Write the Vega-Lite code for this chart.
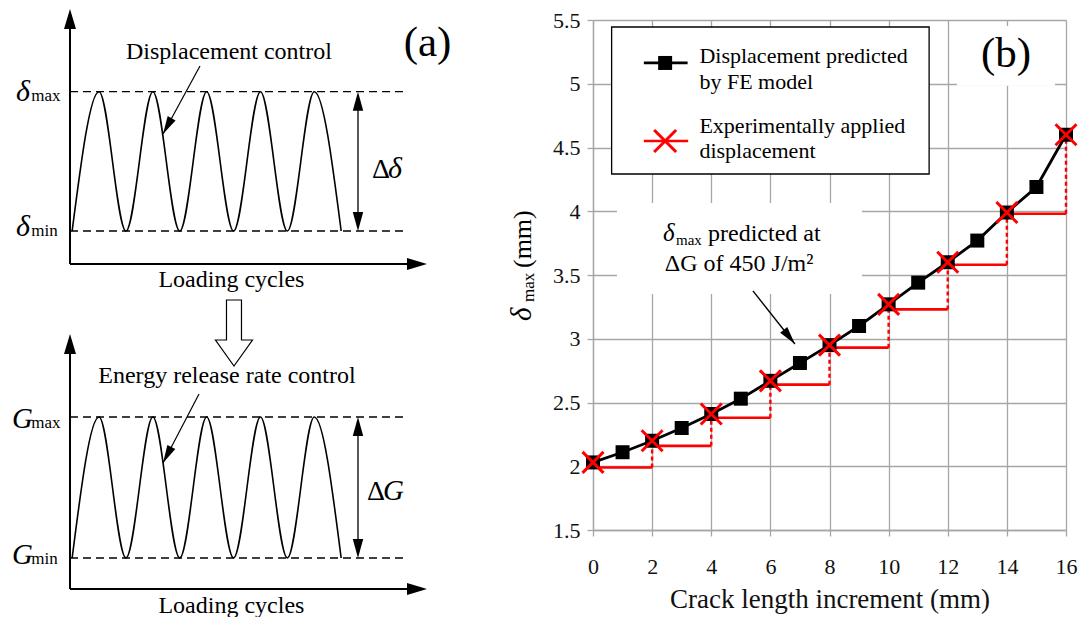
{
  "$schema": "https://vega.github.io/schema/vega-lite/v6.json",
  "background": "white",
  "padding": {"left": 0, "top": 8, "right": 0, "bottom": 0},
  "bounds": "flush",
  "spacing": 123,
  "config": {"view": {"stroke": null}},
  "datasets": {
    "wave": [
      {"t": 0.04, "level": 0}, {"t": 0.54, "level": 1}, {"t": 1.04, "level": 0}, {"t": 1.54, "level": 1},
      {"t": 2.04, "level": 0}, {"t": 2.54, "level": 1}, {"t": 3.04, "level": 0}, {"t": 3.54, "level": 1},
      {"t": 4.04, "level": 0}, {"t": 4.54, "level": 1}, {"t": 5.04, "level": 0}
    ],
    "series": [
      {"x": 0, "y": 2.03}, {"x": 1, "y": 2.11}, {"x": 2, "y": 2.2}, {"x": 3, "y": 2.3}, {"x": 4, "y": 2.41},
      {"x": 5, "y": 2.53}, {"x": 6, "y": 2.67}, {"x": 7, "y": 2.81}, {"x": 8, "y": 2.95}, {"x": 9, "y": 3.1},
      {"x": 10, "y": 3.27}, {"x": 11, "y": 3.44}, {"x": 12, "y": 3.6}, {"x": 13, "y": 3.77}, {"x": 14, "y": 3.99},
      {"x": 15, "y": 4.19}, {"x": 16, "y": 4.6}
    ],
    "exp": [
      {"x": 0, "y": 2.03}, {"x": 2, "y": 2.2}, {"x": 4, "y": 2.41}, {"x": 6, "y": 2.67}, {"x": 8, "y": 2.95},
      {"x": 10, "y": 3.27}, {"x": 12, "y": 3.6}, {"x": 14, "y": 3.99}, {"x": 16, "y": 4.6}
    ],
    "steps": [
      {"from": 0, "to": 2, "level": 1.99, "next": 2.2},
      {"from": 2, "to": 4, "level": 2.16, "next": 2.41},
      {"from": 4, "to": 6, "level": 2.38, "next": 2.67},
      {"from": 6, "to": 8, "level": 2.64, "next": 2.95},
      {"from": 8, "to": 10, "level": 2.93, "next": 3.27},
      {"from": 10, "to": 12, "level": 3.23, "next": 3.6},
      {"from": 12, "to": 14, "level": 3.58, "next": 3.99},
      {"from": 14, "to": 16, "level": 3.98, "next": 4.6}
    ]
  },
  "hconcat": [
    {
      "width": 470,
      "height": 598,
      "data": {"values": [{}]},
      "resolve": {"scale": {"y": "independent"}},
      "layer": [
        {
          "layer": [
            {"data": {"values": [{"lvl": 0}, {"lvl": 1}]}, "mark": {"type": "rule", "color": "black", "strokeWidth": 1.3, "strokeDash": [8, 5]},
             "encoding": {"x": {"datum": 0, "type": "quantitative", "scale": {"domain": [-1.3011, 7.4349], "nice": false, "zero": false}, "axis": null}, "x2": {"datum": 6.23},
                          "y": {"field": "lvl", "type": "quantitative", "scale": {"domain": [-2.778, 1.5147], "nice": false, "zero": false}, "axis": null}}},
            {"data": {"name": "wave"}, "mark": {"type": "line", "interpolate": "monotone", "color": "black", "strokeWidth": 1.6},
             "encoding": {"x": {"field": "t", "type": "quantitative", "scale": {"domain": [-1.3011, 7.4349], "nice": false, "zero": false}, "axis": null},
                          "y": {"field": "level", "type": "quantitative", "scale": {"domain": [-2.778, 1.5147], "nice": false, "zero": false}, "axis": null}}},
            {"mark": {"type": "rule", "color": "black", "strokeWidth": 2},
             "encoding": {"x": {"datum": 0, "type": "quantitative", "scale": {"domain": [-1.3011, 7.4349], "nice": false, "zero": false}, "axis": null},
                          "y": {"datum": -0.237, "type": "quantitative", "scale": {"domain": [-2.778, 1.5147], "nice": false, "zero": false}, "axis": null}, "y2": {"datum": 1.522}}},
            {"mark": {"type": "rule", "color": "black", "strokeWidth": 2},
             "encoding": {"x": {"datum": 0, "type": "quantitative", "scale": {"domain": [-1.3011, 7.4349], "nice": false, "zero": false}, "axis": null}, "x2": {"datum": 6.45},
                          "y": {"datum": -0.237, "type": "quantitative", "scale": {"domain": [-2.778, 1.5147], "nice": false, "zero": false}, "axis": null}}},
            {"mark": {"type": "point", "shape": "M0,0L0.6,2L-0.6,2Z", "size": 400, "filled": true, "color": "black", "opacity": 1, "strokeWidth": 0},
             "encoding": {"x": {"datum": 0, "type": "quantitative", "scale": {"domain": [-1.3011, 7.4349], "nice": false, "zero": false}, "axis": null},
                          "y": {"datum": 1.594, "type": "quantitative", "scale": {"domain": [-2.778, 1.5147], "nice": false, "zero": false}, "axis": null}}},
            {"mark": {"type": "point", "shape": "M0,0L0.6,2L-0.6,2Z", "size": 400, "angle": 90, "filled": true, "color": "black", "opacity": 1, "strokeWidth": 0},
             "encoding": {"x": {"datum": 6.636, "type": "quantitative", "scale": {"domain": [-1.3011, 7.4349], "nice": false, "zero": false}, "axis": null},
                          "y": {"datum": -0.237, "type": "quantitative", "scale": {"domain": [-2.778, 1.5147], "nice": false, "zero": false}, "axis": null}}},
            {"mark": {"type": "rule", "color": "black", "strokeWidth": 1.3},
             "encoding": {"x": {"datum": 5.353, "type": "quantitative", "scale": {"domain": [-1.3011, 7.4349], "nice": false, "zero": false}, "axis": null},
                          "y": {"datum": 0.072, "type": "quantitative", "scale": {"domain": [-2.778, 1.5147], "nice": false, "zero": false}, "axis": null}, "y2": {"datum": 0.928}}},
            {"mark": {"type": "point", "shape": "M0,0L0.55,2L-0.55,2Z", "size": 361, "filled": true, "color": "black", "opacity": 1, "strokeWidth": 0},
             "encoding": {"x": {"datum": 5.353, "type": "quantitative", "scale": {"domain": [-1.3011, 7.4349], "nice": false, "zero": false}, "axis": null},
                          "y": {"datum": 1, "type": "quantitative", "scale": {"domain": [-2.778, 1.5147], "nice": false, "zero": false}, "axis": null}}},
            {"mark": {"type": "point", "shape": "M0,0L0.55,2L-0.55,2Z", "size": 361, "angle": 180, "filled": true, "color": "black", "opacity": 1, "strokeWidth": 0},
             "encoding": {"x": {"datum": 5.353, "type": "quantitative", "scale": {"domain": [-1.3011, 7.4349], "nice": false, "zero": false}, "axis": null},
                          "y": {"datum": 0, "type": "quantitative", "scale": {"domain": [-2.778, 1.5147], "nice": false, "zero": false}, "axis": null}}},
            {"mark": {"type": "rule", "color": "black", "strokeWidth": 1.2},
             "encoding": {"x": {"datum": 2.416, "type": "quantitative", "scale": {"domain": [-1.3011, 7.4349], "nice": false, "zero": false}, "axis": null}, "x2": {"datum": 1.729},
                          "y": {"datum": 1.184, "type": "quantitative", "scale": {"domain": [-2.778, 1.5147], "nice": false, "zero": false}, "axis": null}, "y2": {"datum": 0.696}}},
            {"mark": {"type": "point", "shape": "M0,0L0.5,2L-0.5,2Z", "size": 324, "angle": 208.6, "filled": true, "color": "black", "opacity": 1, "strokeWidth": 0},
             "encoding": {"x": {"datum": 1.729, "type": "quantitative", "scale": {"domain": [-1.3011, 7.4349], "nice": false, "zero": false}, "axis": null},
                          "y": {"datum": 0.696, "type": "quantitative", "scale": {"domain": [-2.778, 1.5147], "nice": false, "zero": false}, "axis": null}}},
            {"mark": {"type": "text", "text": "Displacement control", "font": "Liberation Serif", "fontSize": 24, "align": "center", "baseline": "alphabetic", "color": "black"},
             "encoding": {"x": {"datum": 2.955, "type": "quantitative", "scale": {"domain": [-1.3011, 7.4349], "nice": false, "zero": false}, "axis": null},
                          "y": {"datum": 1.235, "type": "quantitative", "scale": {"domain": [-2.778, 1.5147], "nice": false, "zero": false}, "axis": null}}},
            {"mark": {"type": "text", "text": "δ", "font": "Liberation Serif", "fontStyle": "italic", "fontSize": 30, "align": "left", "baseline": "alphabetic", "color": "black"},
             "encoding": {"x": {"datum": -1.004, "type": "quantitative", "scale": {"domain": [-1.3011, 7.4349], "nice": false, "zero": false}, "axis": null},
                          "y": {"datum": 0.933, "type": "quantitative", "scale": {"domain": [-2.778, 1.5147], "nice": false, "zero": false}, "axis": null}}},
            {"mark": {"type": "text", "text": "max", "font": "Liberation Serif", "fontSize": 17, "align": "left", "baseline": "alphabetic", "color": "black"},
             "encoding": {"x": {"datum": -0.72, "type": "quantitative", "scale": {"domain": [-1.3011, 7.4349], "nice": false, "zero": false}, "axis": null},
                          "y": {"datum": 0.933, "type": "quantitative", "scale": {"domain": [-2.778, 1.5147], "nice": false, "zero": false}, "axis": null}}},
            {"mark": {"type": "text", "text": "δ", "font": "Liberation Serif", "fontStyle": "italic", "fontSize": 30, "align": "left", "baseline": "alphabetic", "color": "black"},
             "encoding": {"x": {"datum": -1.004, "type": "quantitative", "scale": {"domain": [-1.3011, 7.4349], "nice": false, "zero": false}, "axis": null},
                          "y": {"datum": -0.036, "type": "quantitative", "scale": {"domain": [-2.778, 1.5147], "nice": false, "zero": false}, "axis": null}}},
            {"mark": {"type": "text", "text": "min", "font": "Liberation Serif", "fontSize": 17, "align": "left", "baseline": "alphabetic", "color": "black"},
             "encoding": {"x": {"datum": -0.72, "type": "quantitative", "scale": {"domain": [-1.3011, 7.4349], "nice": false, "zero": false}, "axis": null},
                          "y": {"datum": -0.036, "type": "quantitative", "scale": {"domain": [-2.778, 1.5147], "nice": false, "zero": false}, "axis": null}}},
            {"mark": {"type": "text", "text": "Δ", "font": "Liberation Serif", "fontSize": 28, "align": "left", "baseline": "alphabetic", "color": "black"},
             "encoding": {"x": {"datum": 5.613, "type": "quantitative", "scale": {"domain": [-1.3011, 7.4349], "nice": false, "zero": false}, "axis": null},
                          "y": {"datum": 0.38, "type": "quantitative", "scale": {"domain": [-2.778, 1.5147], "nice": false, "zero": false}, "axis": null}}},
            {"mark": {"type": "text", "text": "δ", "font": "Liberation Serif", "fontStyle": "italic", "fontSize": 30, "align": "left", "baseline": "alphabetic", "color": "black"},
             "encoding": {"x": {"datum": 5.911, "type": "quantitative", "scale": {"domain": [-1.3011, 7.4349], "nice": false, "zero": false}, "axis": null},
                          "y": {"datum": 0.38, "type": "quantitative", "scale": {"domain": [-2.778, 1.5147], "nice": false, "zero": false}, "axis": null}}},
            {"mark": {"type": "text", "text": "(a)", "font": "Liberation Serif", "fontSize": 43, "align": "center", "baseline": "alphabetic", "color": "black"},
             "encoding": {"x": {"datum": 6.645, "type": "quantitative", "scale": {"domain": [-1.3011, 7.4349], "nice": false, "zero": false}, "axis": null},
                          "y": {"datum": 1.253, "type": "quantitative", "scale": {"domain": [-2.778, 1.5147], "nice": false, "zero": false}, "axis": null}}},
            {"mark": {"type": "text", "text": "Loading cycles", "font": "Liberation Serif", "fontSize": 24, "align": "center", "baseline": "alphabetic", "color": "black"},
             "encoding": {"x": {"datum": 3.0, "type": "quantitative", "scale": {"domain": [-1.3011, 7.4349], "nice": false, "zero": false}, "axis": null},
                          "y": {"datum": -0.402, "type": "quantitative", "scale": {"domain": [-2.778, 1.5147], "nice": false, "zero": false}, "axis": null}}}
          ]
        },
        {
          "layer": [
            {"data": {"values": [{"lvl": 0}, {"lvl": 1}]}, "mark": {"type": "rule", "color": "black", "strokeWidth": 1.3, "strokeDash": [8, 5]},
             "encoding": {"x": {"datum": 0, "type": "quantitative", "scale": {"domain": [-1.3011, 7.4349], "nice": false, "zero": false}, "axis": null}, "x2": {"datum": 6.23},
                          "y": {"field": "lvl", "type": "quantitative", "scale": {"domain": [-0.4255, 3.816], "nice": false, "zero": false}, "axis": null}}},
            {"data": {"name": "wave"}, "mark": {"type": "line", "interpolate": "monotone", "color": "black", "strokeWidth": 1.6},
             "encoding": {"x": {"field": "t", "type": "quantitative", "scale": {"domain": [-1.3011, 7.4349], "nice": false, "zero": false}, "axis": null},
                          "y": {"field": "level", "type": "quantitative", "scale": {"domain": [-0.4255, 3.816], "nice": false, "zero": false}, "axis": null}}},
            {"mark": {"type": "rule", "color": "black", "strokeWidth": 2},
             "encoding": {"x": {"datum": 0, "type": "quantitative", "scale": {"domain": [-1.3011, 7.4349], "nice": false, "zero": false}, "axis": null},
                          "y": {"datum": -0.22, "type": "quantitative", "scale": {"domain": [-0.4255, 3.816], "nice": false, "zero": false}, "axis": null}, "y2": {"datum": 1.518}}},
            {"mark": {"type": "rule", "color": "black", "strokeWidth": 2},
             "encoding": {"x": {"datum": 0, "type": "quantitative", "scale": {"domain": [-1.3011, 7.4349], "nice": false, "zero": false}, "axis": null}, "x2": {"datum": 6.45},
                          "y": {"datum": -0.22, "type": "quantitative", "scale": {"domain": [-0.4255, 3.816], "nice": false, "zero": false}, "axis": null}}},
            {"mark": {"type": "point", "shape": "M0,0L0.6,2L-0.6,2Z", "size": 400, "filled": true, "color": "black", "opacity": 1, "strokeWidth": 0},
             "encoding": {"x": {"datum": 0, "type": "quantitative", "scale": {"domain": [-1.3011, 7.4349], "nice": false, "zero": false}, "axis": null},
                          "y": {"datum": 1.589, "type": "quantitative", "scale": {"domain": [-0.4255, 3.816], "nice": false, "zero": false}, "axis": null}}},
            {"mark": {"type": "point", "shape": "M0,0L0.6,2L-0.6,2Z", "size": 400, "angle": 90, "filled": true, "color": "black", "opacity": 1, "strokeWidth": 0},
             "encoding": {"x": {"datum": 6.636, "type": "quantitative", "scale": {"domain": [-1.3011, 7.4349], "nice": false, "zero": false}, "axis": null},
                          "y": {"datum": -0.22, "type": "quantitative", "scale": {"domain": [-0.4255, 3.816], "nice": false, "zero": false}, "axis": null}}},
            {"mark": {"type": "rule", "color": "black", "strokeWidth": 1.3},
             "encoding": {"x": {"datum": 5.353, "type": "quantitative", "scale": {"domain": [-1.3011, 7.4349], "nice": false, "zero": false}, "axis": null},
                          "y": {"datum": 0.071, "type": "quantitative", "scale": {"domain": [-0.4255, 3.816], "nice": false, "zero": false}, "axis": null}, "y2": {"datum": 0.929}}},
            {"mark": {"type": "point", "shape": "M0,0L0.55,2L-0.55,2Z", "size": 361, "filled": true, "color": "black", "opacity": 1, "strokeWidth": 0},
             "encoding": {"x": {"datum": 5.353, "type": "quantitative", "scale": {"domain": [-1.3011, 7.4349], "nice": false, "zero": false}, "axis": null},
                          "y": {"datum": 1, "type": "quantitative", "scale": {"domain": [-0.4255, 3.816], "nice": false, "zero": false}, "axis": null}}},
            {"mark": {"type": "point", "shape": "M0,0L0.55,2L-0.55,2Z", "size": 361, "angle": 180, "filled": true, "color": "black", "opacity": 1, "strokeWidth": 0},
             "encoding": {"x": {"datum": 5.353, "type": "quantitative", "scale": {"domain": [-1.3011, 7.4349], "nice": false, "zero": false}, "axis": null},
                          "y": {"datum": 0, "type": "quantitative", "scale": {"domain": [-0.4255, 3.816], "nice": false, "zero": false}, "axis": null}}},
            {"mark": {"type": "rule", "color": "black", "strokeWidth": 1.2},
             "encoding": {"x": {"datum": 2.398, "type": "quantitative", "scale": {"domain": [-1.3011, 7.4349], "nice": false, "zero": false}, "axis": null}, "x2": {"datum": 1.729},
                          "y": {"datum": 1.163, "type": "quantitative", "scale": {"domain": [-0.4255, 3.816], "nice": false, "zero": false}, "axis": null}, "y2": {"datum": 0.674}}},
            {"mark": {"type": "point", "shape": "M0,0L0.5,2L-0.5,2Z", "size": 324, "angle": 207.6, "filled": true, "color": "black", "opacity": 1, "strokeWidth": 0},
             "encoding": {"x": {"datum": 1.729, "type": "quantitative", "scale": {"domain": [-1.3011, 7.4349], "nice": false, "zero": false}, "axis": null},
                          "y": {"datum": 0.674, "type": "quantitative", "scale": {"domain": [-0.4255, 3.816], "nice": false, "zero": false}, "axis": null}}},
            {"mark": {"type": "point", "shape": "M-0.75,-6.6L0.75,-6.6L0.75,-2.6L1.85,-2.6L0,0L-1.85,-2.6L-0.75,-2.6Z", "size": 400, "filled": true, "fill": "white", "stroke": "black", "strokeWidth": 1.2, "opacity": 1},
             "encoding": {"x": {"datum": 3.048, "type": "quantitative", "scale": {"domain": [-1.3011, 7.4349], "nice": false, "zero": false}, "axis": null},
                          "y": {"datum": 1.362, "type": "quantitative", "scale": {"domain": [-0.4255, 3.816], "nice": false, "zero": false}, "axis": null}}},
            {"mark": {"type": "text", "text": "Energy release rate control", "font": "Liberation Serif", "fontSize": 24, "align": "center", "baseline": "alphabetic", "color": "black"},
             "encoding": {"x": {"datum": 2.918, "type": "quantitative", "scale": {"domain": [-1.3011, 7.4349], "nice": false, "zero": false}, "axis": null},
                          "y": {"datum": 1.241, "type": "quantitative", "scale": {"domain": [-0.4255, 3.816], "nice": false, "zero": false}, "axis": null}}},
            {"mark": {"type": "text", "text": "G", "font": "Liberation Serif", "fontStyle": "italic", "fontSize": 29, "align": "left", "baseline": "alphabetic", "color": "black"},
             "encoding": {"x": {"datum": -1.078, "type": "quantitative", "scale": {"domain": [-1.3011, 7.4349], "nice": false, "zero": false}, "axis": null},
                          "y": {"datum": 0.922, "type": "quantitative", "scale": {"domain": [-0.4255, 3.816], "nice": false, "zero": false}, "axis": null}}},
            {"mark": {"type": "text", "text": "max", "font": "Liberation Serif", "fontSize": 17, "align": "left", "baseline": "alphabetic", "color": "black"},
             "encoding": {"x": {"datum": -0.72, "type": "quantitative", "scale": {"domain": [-1.3011, 7.4349], "nice": false, "zero": false}, "axis": null},
                          "y": {"datum": 0.922, "type": "quantitative", "scale": {"domain": [-0.4255, 3.816], "nice": false, "zero": false}, "axis": null}}},
            {"mark": {"type": "text", "text": "G", "font": "Liberation Serif", "fontStyle": "italic", "fontSize": 29, "align": "left", "baseline": "alphabetic", "color": "black"},
             "encoding": {"x": {"datum": -1.078, "type": "quantitative", "scale": {"domain": [-1.3011, 7.4349], "nice": false, "zero": false}, "axis": null},
                          "y": {"datum": -0.043, "type": "quantitative", "scale": {"domain": [-0.4255, 3.816], "nice": false, "zero": false}, "axis": null}}},
            {"mark": {"type": "text", "text": "min", "font": "Liberation Serif", "fontSize": 17, "align": "left", "baseline": "alphabetic", "color": "black"},
             "encoding": {"x": {"datum": -0.72, "type": "quantitative", "scale": {"domain": [-1.3011, 7.4349], "nice": false, "zero": false}, "axis": null},
                          "y": {"datum": -0.043, "type": "quantitative", "scale": {"domain": [-0.4255, 3.816], "nice": false, "zero": false}, "axis": null}}},
            {"mark": {"type": "text", "text": "Δ", "font": "Liberation Serif", "fontSize": 28, "align": "left", "baseline": "alphabetic", "color": "black"},
             "encoding": {"x": {"datum": 5.52, "type": "quantitative", "scale": {"domain": [-1.3011, 7.4349], "nice": false, "zero": false}, "axis": null},
                          "y": {"datum": 0.411, "type": "quantitative", "scale": {"domain": [-0.4255, 3.816], "nice": false, "zero": false}, "axis": null}}},
            {"mark": {"type": "text", "text": "G", "font": "Liberation Serif", "fontStyle": "italic", "fontSize": 29, "align": "left", "baseline": "alphabetic", "color": "black"},
             "encoding": {"x": {"datum": 5.818, "type": "quantitative", "scale": {"domain": [-1.3011, 7.4349], "nice": false, "zero": false}, "axis": null},
                          "y": {"datum": 0.411, "type": "quantitative", "scale": {"domain": [-0.4255, 3.816], "nice": false, "zero": false}, "axis": null}}},
            {"mark": {"type": "text", "text": "Loading cycles", "font": "Liberation Serif", "fontSize": 24, "align": "center", "baseline": "alphabetic", "color": "black"},
             "encoding": {"x": {"datum": 3.0, "type": "quantitative", "scale": {"domain": [-1.3011, 7.4349], "nice": false, "zero": false}, "axis": null},
                          "y": {"datum": -0.39, "type": "quantitative", "scale": {"domain": [-0.4255, 3.816], "nice": false, "zero": false}, "axis": null}}}
          ]
        }
      ]
    },
    {
      "width": 473,
      "height": 510,
      "data": {"values": [{}]},
      "layer": [
        {"mark": {"type": "rect", "fill": "white", "strokeWidth": 0},
         "encoding": {
           "x": {"datum": 0.81, "type": "quantitative", "scale": {"domain": [0, 16], "nice": false, "zero": false},
                 "axis": {"title": "Crack length increment (mm)", "values": [0, 2, 4, 6, 8, 10, 12, 14, 16], "grid": true, "gridColor": "#a6a6a6", "gridWidth": 1.3, "tickColor": "#a6a6a6", "tickWidth": 1.3, "tickSize": 6, "domainColor": "#a6a6a6", "domainWidth": 1.3, "labelFont": "Liberation Serif", "labelFontSize": 22, "labelColor": "#111111", "labelPadding": 20, "labelFlush": false, "labelOverlap": false, "titleFont": "Liberation Serif", "titleFontSize": 27, "titleFontWeight": "normal", "titleColor": "#111111", "titlePadding": 9, "zindex": 0}},
           "x2": {"datum": 9.1},
           "y": {"datum": 4.065, "type": "quantitative", "scale": {"domain": [1.5, 5.5], "nice": false, "zero": false},
                 "axis": {"title": null, "values": [1.5, 2, 2.5, 3, 3.5, 4, 4.5, 5, 5.5], "format": "~g", "grid": true, "gridColor": "#a6a6a6", "gridWidth": 1.3, "tickColor": "#a6a6a6", "tickWidth": 1.3, "tickSize": 6, "domainColor": "#a6a6a6", "domainWidth": 1.3, "labelFont": "Liberation Serif", "labelFontSize": 22, "labelColor": "#111111", "labelPadding": 7, "labelFlush": false, "labelOverlap": false, "zindex": 0}},
           "y2": {"datum": 3.351}}},
        {"mark": {"type": "rect", "fill": "white", "strokeWidth": 0},
         "encoding": {"x": {"datum": 12.31, "type": "quantitative", "scale": {"domain": [0, 16], "nice": false, "zero": false}}, "x2": {"datum": 15.63},
                      "y": {"datum": 5.453, "type": "quantitative", "scale": {"domain": [1.5, 5.5], "nice": false, "zero": false}}, "y2": {"datum": 4.985}}},
        {"data": {"name": "steps"}, "mark": {"type": "rule", "color": "#ff0000", "strokeWidth": 2.6},
         "encoding": {"x": {"field": "from", "type": "quantitative", "title": "Crack length increment (mm)", "scale": {"domain": [0, 16], "nice": false, "zero": false}}, "x2": {"field": "to"},
                      "y": {"field": "level", "type": "quantitative", "title": null, "scale": {"domain": [1.5, 5.5], "nice": false, "zero": false}}}},
        {"data": {"name": "steps"}, "mark": {"type": "rule", "color": "#ff0000", "strokeWidth": 2.4, "strokeDash": [4, 3]},
         "encoding": {"x": {"field": "to", "type": "quantitative", "title": "Crack length increment (mm)", "scale": {"domain": [0, 16], "nice": false, "zero": false}},
                      "y": {"field": "level", "type": "quantitative", "title": null, "scale": {"domain": [1.5, 5.5], "nice": false, "zero": false}}, "y2": {"field": "next"}}},
        {"data": {"name": "series"}, "mark": {"type": "line", "color": "black", "strokeWidth": 2.8},
         "encoding": {"x": {"field": "x", "type": "quantitative", "title": "Crack length increment (mm)", "scale": {"domain": [0, 16], "nice": false, "zero": false}},
                      "y": {"field": "y", "type": "quantitative", "title": null, "scale": {"domain": [1.5, 5.5], "nice": false, "zero": false}}}},
        {"data": {"name": "series"}, "mark": {"type": "point", "shape": "square", "size": 196, "filled": true, "color": "black", "opacity": 1, "strokeWidth": 0},
         "encoding": {"x": {"field": "x", "type": "quantitative", "title": "Crack length increment (mm)", "scale": {"domain": [0, 16], "nice": false, "zero": false}},
                      "y": {"field": "y", "type": "quantitative", "title": null, "scale": {"domain": [1.5, 5.5], "nice": false, "zero": false}}}},
        {"data": {"name": "exp"}, "mark": {"type": "point", "shape": "M-1,-1L1,1M-1,1L1,-1", "size": 441, "filled": false, "stroke": "#ff0000", "strokeWidth": 3, "opacity": 1},
         "encoding": {"x": {"field": "x", "type": "quantitative", "title": "Crack length increment (mm)", "scale": {"domain": [0, 16], "nice": false, "zero": false}},
                      "y": {"field": "y", "type": "quantitative", "title": null, "scale": {"domain": [1.5, 5.5], "nice": false, "zero": false}}}},
        {"mark": {"type": "rect", "fill": "white", "stroke": "black", "strokeWidth": 1.3},
         "encoding": {"x": {"datum": 0.63, "type": "quantitative", "scale": {"domain": [0, 16], "nice": false, "zero": false}}, "x2": {"datum": 11.37},
                      "y": {"datum": 5.445, "type": "quantitative", "scale": {"domain": [1.5, 5.5], "nice": false, "zero": false}}, "y2": {"datum": 4.292}}},
        {"mark": {"type": "rule", "color": "black", "strokeWidth": 2.8},
         "encoding": {"x": {"datum": 1.72, "type": "quantitative", "scale": {"domain": [0, 16], "nice": false, "zero": false}}, "x2": {"datum": 3.2},
                      "y": {"datum": 5.163, "type": "quantitative", "scale": {"domain": [1.5, 5.5], "nice": false, "zero": false}}}},
        {"mark": {"type": "point", "shape": "square", "size": 196, "filled": true, "color": "black", "opacity": 1, "strokeWidth": 0},
         "encoding": {"x": {"datum": 2.44, "type": "quantitative", "scale": {"domain": [0, 16], "nice": false, "zero": false}},
                      "y": {"datum": 5.163, "type": "quantitative", "scale": {"domain": [1.5, 5.5], "nice": false, "zero": false}}}},
        {"mark": {"type": "rule", "color": "#ff0000", "strokeWidth": 2.6},
         "encoding": {"x": {"datum": 1.72, "type": "quantitative", "scale": {"domain": [0, 16], "nice": false, "zero": false}}, "x2": {"datum": 3.22},
                      "y": {"datum": 4.551, "type": "quantitative", "scale": {"domain": [1.5, 5.5], "nice": false, "zero": false}}}},
        {"mark": {"type": "point", "shape": "M-1,-1L1,1M-1,1L1,-1", "size": 484, "filled": false, "stroke": "#ff0000", "strokeWidth": 3, "opacity": 1},
         "encoding": {"x": {"datum": 2.44, "type": "quantitative", "scale": {"domain": [0, 16], "nice": false, "zero": false}},
                      "y": {"datum": 4.551, "type": "quantitative", "scale": {"domain": [1.5, 5.5], "nice": false, "zero": false}}}},
        {"mark": {"type": "text", "text": "Displacement predicted", "font": "Liberation Serif", "fontSize": 22, "align": "left", "baseline": "alphabetic", "color": "black"},
         "encoding": {"x": {"datum": 3.6, "type": "quantitative", "scale": {"domain": [0, 16], "nice": false, "zero": false}},
                      "y": {"datum": 5.163, "type": "quantitative", "scale": {"domain": [1.5, 5.5], "nice": false, "zero": false}}}},
        {"mark": {"type": "text", "text": "by FE model", "font": "Liberation Serif", "fontSize": 22, "align": "left", "baseline": "alphabetic", "color": "black"},
         "encoding": {"x": {"datum": 3.6, "type": "quantitative", "scale": {"domain": [0, 16], "nice": false, "zero": false}},
                      "y": {"datum": 4.959, "type": "quantitative", "scale": {"domain": [1.5, 5.5], "nice": false, "zero": false}}}},
        {"mark": {"type": "text", "text": "Experimentally applied", "font": "Liberation Serif", "fontSize": 22, "align": "left", "baseline": "alphabetic", "color": "black"},
         "encoding": {"x": {"datum": 3.6, "type": "quantitative", "scale": {"domain": [0, 16], "nice": false, "zero": false}},
                      "y": {"datum": 4.614, "type": "quantitative", "scale": {"domain": [1.5, 5.5], "nice": false, "zero": false}}}},
        {"mark": {"type": "text", "text": "displacement", "font": "Liberation Serif", "fontSize": 22, "align": "left", "baseline": "alphabetic", "color": "black"},
         "encoding": {"x": {"datum": 3.6, "type": "quantitative", "scale": {"domain": [0, 16], "nice": false, "zero": false}},
                      "y": {"datum": 4.418, "type": "quantitative", "scale": {"domain": [1.5, 5.5], "nice": false, "zero": false}}}},
        {"mark": {"type": "text", "text": "δ", "font": "Liberation Serif", "fontStyle": "italic", "fontSize": 25, "align": "left", "baseline": "alphabetic", "color": "black"},
         "encoding": {"x": {"datum": 2.368, "type": "quantitative", "scale": {"domain": [0, 16], "nice": false, "zero": false}},
                      "y": {"datum": 3.767, "type": "quantitative", "scale": {"domain": [1.5, 5.5], "nice": false, "zero": false}}}},
        {"mark": {"type": "text", "text": "max", "font": "Liberation Serif", "fontSize": 15, "align": "left", "baseline": "alphabetic", "dx": 13, "dy": 4, "color": "black"},
         "encoding": {"x": {"datum": 2.368, "type": "quantitative", "scale": {"domain": [0, 16], "nice": false, "zero": false}},
                      "y": {"datum": 3.767, "type": "quantitative", "scale": {"domain": [1.5, 5.5], "nice": false, "zero": false}}}},
        {"mark": {"type": "text", "text": "predicted at", "font": "Liberation Serif", "fontSize": 24, "align": "left", "baseline": "alphabetic", "dx": 45, "color": "black"},
         "encoding": {"x": {"datum": 2.368, "type": "quantitative", "scale": {"domain": [0, 16], "nice": false, "zero": false}},
                      "y": {"datum": 3.767, "type": "quantitative", "scale": {"domain": [1.5, 5.5], "nice": false, "zero": false}}}},
        {"mark": {"type": "text", "text": "ΔG of 450 J/m²", "font": "Liberation Serif", "fontSize": 24, "align": "left", "baseline": "alphabetic", "color": "black"},
         "encoding": {"x": {"datum": 2.43, "type": "quantitative", "scale": {"domain": [0, 16], "nice": false, "zero": false}},
                      "y": {"datum": 3.531, "type": "quantitative", "scale": {"domain": [1.5, 5.5], "nice": false, "zero": false}}}},
        {"mark": {"type": "rule", "color": "black", "strokeWidth": 1.4},
         "encoding": {"x": {"datum": 5.41, "type": "quantitative", "scale": {"domain": [0, 16], "nice": false, "zero": false}}, "x2": {"datum": 6.83},
                      "y": {"datum": 3.375, "type": "quantitative", "scale": {"domain": [1.5, 5.5], "nice": false, "zero": false}}, "y2": {"datum": 2.959}}},
        {"mark": {"type": "point", "shape": "M0,0L0.5,2L-0.5,2Z", "size": 324, "angle": 141.6, "filled": true, "color": "black", "opacity": 1, "strokeWidth": 0},
         "encoding": {"x": {"datum": 6.83, "type": "quantitative", "scale": {"domain": [0, 16], "nice": false, "zero": false}},
                      "y": {"datum": 2.959, "type": "quantitative", "scale": {"domain": [1.5, 5.5], "nice": false, "zero": false}}}},
        {"mark": {"type": "text", "text": "(b)", "font": "Liberation Serif", "fontSize": 43, "align": "center", "baseline": "alphabetic", "color": "black"},
         "encoding": {"x": {"datum": 13.97, "type": "quantitative", "scale": {"domain": [0, 16], "nice": false, "zero": false}},
                      "y": {"datum": 5.135, "type": "quantitative", "scale": {"domain": [1.5, 5.5], "nice": false, "zero": false}}}},
        {"mark": {"type": "text", "text": "δ", "font": "Liberation Serif", "fontStyle": "italic", "fontSize": 29, "angle": 270, "align": "left", "baseline": "alphabetic", "color": "black"},
         "encoding": {"x": {"datum": -2.097, "type": "quantitative", "scale": {"domain": [0, 16], "nice": false, "zero": false}},
                      "y": {"datum": 3.139, "type": "quantitative", "scale": {"domain": [1.5, 5.5], "nice": false, "zero": false}}}},
        {"mark": {"type": "text", "text": "max", "font": "Liberation Serif", "fontSize": 17, "angle": 270, "align": "left", "baseline": "alphabetic", "dx": 19, "dy": 3, "color": "black"},
         "encoding": {"x": {"datum": -2.097, "type": "quantitative", "scale": {"domain": [0, 16], "nice": false, "zero": false}},
                      "y": {"datum": 3.139, "type": "quantitative", "scale": {"domain": [1.5, 5.5], "nice": false, "zero": false}}}},
        {"mark": {"type": "text", "text": "(mm)", "font": "Liberation Serif", "fontSize": 26, "angle": 270, "align": "left", "baseline": "alphabetic", "dx": 53, "color": "black"},
         "encoding": {"x": {"datum": -2.097, "type": "quantitative", "scale": {"domain": [0, 16], "nice": false, "zero": false}},
                      "y": {"datum": 3.139, "type": "quantitative", "scale": {"domain": [1.5, 5.5], "nice": false, "zero": false}}}}
      ]
    }
  ]
}
